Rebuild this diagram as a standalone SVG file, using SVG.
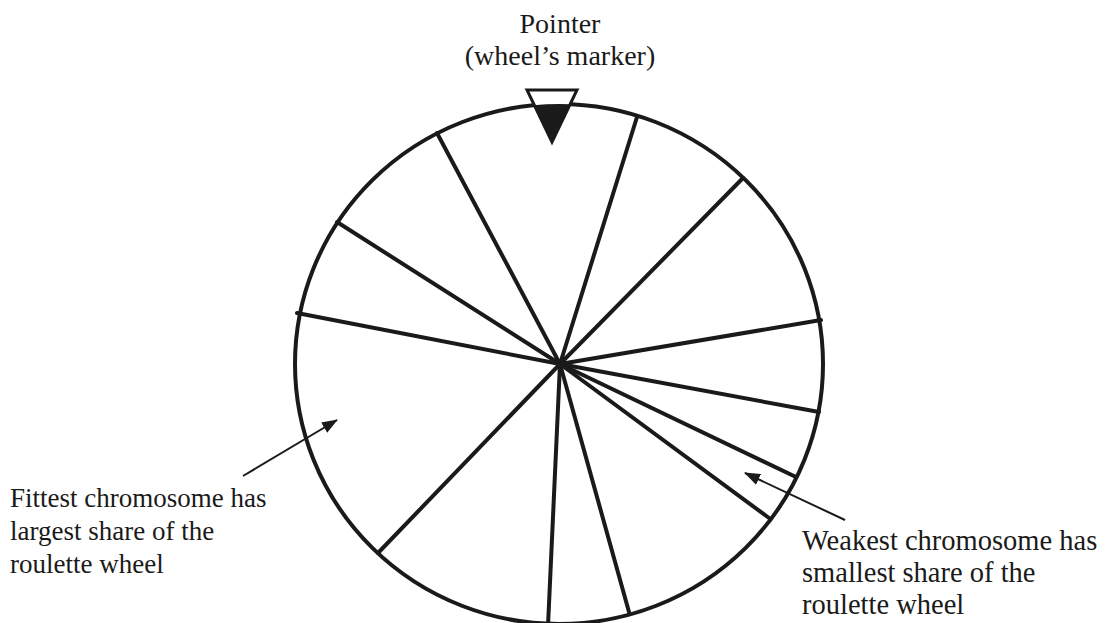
<svg xmlns="http://www.w3.org/2000/svg" width="1109" height="623" viewBox="0 0 1109 623">
<style>
.t{font-family:"Liberation Serif","Times New Roman",serif;font-size:28px;fill:#1a1a1a}
.l{font-size:27px}
.r{font-size:28.5px}
.sp{stroke:#1a1a1a;stroke-width:4;stroke-linecap:round;fill:none}
.ar{stroke:#1a1a1a;stroke-width:2;fill:none}
</style>
<defs>
<marker id="ah" viewBox="0 0 16 12" refX="15" refY="6" markerWidth="16" markerHeight="12" markerUnits="userSpaceOnUse" orient="auto">
<path d="M0,0 L16,6 L0,12 z" fill="#1a1a1a"/>
</marker>
<clipPath id="wheelClip"><ellipse cx="559" cy="364" rx="264" ry="260"/></clipPath>
</defs>
<g id="wheel">
<g id="spokes" class="sp">
<line x1="560" y1="364" x2="437" y2="133"/>
<line x1="560" y1="364" x2="337" y2="222"/>
<line x1="560" y1="364" x2="297" y2="313"/>
<line x1="560" y1="364" x2="637" y2="117"/>
<line x1="560" y1="364" x2="743" y2="178"/>
<line x1="560" y1="364" x2="821" y2="320"/>
<line x1="560" y1="364" x2="819" y2="412"/>
<line x1="560" y1="364" x2="796" y2="477"/>
<line x1="560" y1="364" x2="769" y2="518"/>
<line x1="560" y1="364" x2="629" y2="612"/>
<line x1="560" y1="364" x2="548" y2="626"/>
<line x1="560" y1="364" x2="378" y2="553"/>
</g>
<ellipse cx="559" cy="364" rx="264" ry="260" fill="none" stroke="#1a1a1a" stroke-width="4"/>
</g>
<g id="pointer">
<polygon points="527,90 577,90 552,142" fill="#fff" stroke="#1a1a1a" stroke-width="3" stroke-linejoin="miter"/>
<polygon points="527,90 577,90 552,142" fill="#1a1a1a" clip-path="url(#wheelClip)"/>
<text class="t" x="560" y="33" text-anchor="middle">Pointer</text>
<text class="t" x="560" y="65" text-anchor="middle">(wheel’s marker)</text>
</g>
<g id="fittest">
<text class="t l" x="10" y="507">Fittest chromosome has</text>
<text class="t l" x="10" y="540">largest share of the</text>
<text class="t l" x="10" y="573">roulette wheel</text>
</g>
<g id="weakest">
<text class="t r" x="802" y="550">Weakest chromosome has</text>
<text class="t r" x="802" y="582">smallest share of the</text>
<text class="t r" x="802" y="614">roulette wheel</text>
</g>
<g id="connectors">
<line class="ar" x1="243" y1="476" x2="337" y2="420" marker-end="url(#ah)"/>
<line class="ar" x1="845" y1="520" x2="745" y2="473" marker-end="url(#ah)"/>
</g>
</svg>
